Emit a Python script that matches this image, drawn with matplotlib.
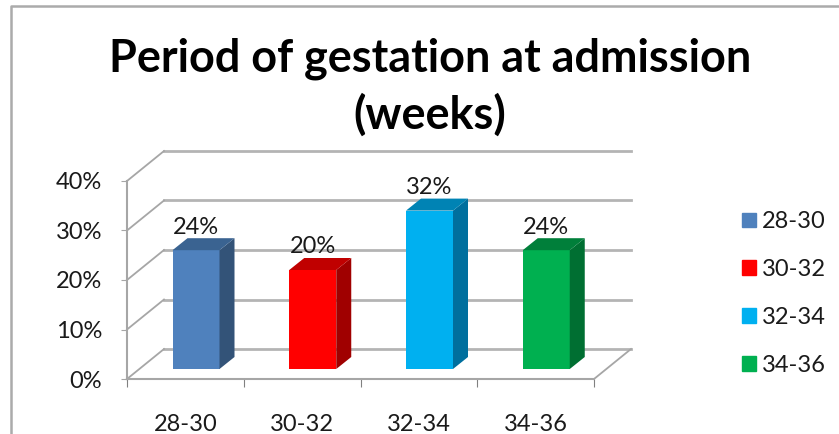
import matplotlib.pyplot as plt
from matplotlib.lines import Line2D
from matplotlib.patches import Patch, Polygon

plt.rcParams['font.family'] = ['Lato', 'DejaVu Sans']

categories = ['28-30', '30-32', '32-34', '34-36']
values = [24, 20, 32, 24]
y_ticks = [0, 10, 20, 30, 40]

front_colors = ['#4F81BD', '#FF0000', '#00B0F0', '#00B050']
top_colors = ['#3A6391', '#C00000', '#0083B4', '#007F3A']
side_colors = ['#335378', '#A00000', '#006F9E', '#006F32']

W, H = 839, 434
fig = plt.figure(figsize=(W / 100, H / 100), dpi=100)
ax = fig.add_axes([127 / W, (H - 379) / H, 467 / W, 198 / H])
ax.set_xlim(0, 4)
ax.set_ylim(0, 40)

# depth of the fake 3d box and of the bars, in data units
px_x = 4 / 467
px_y = 40 / 198
wall_dx, wall_dy = 37 * px_x, 30 * px_y
bar_dx, bar_dy = 15 * px_x, 12 * px_y
bar_w = 47 * px_x
bar_base = 10 * px_y
bar_shift = 69 * px_x

grid = '#B4B4B4'
for v in y_ticks:
    ax.plot([wall_dx, 4 + wall_dx], [v + wall_dy] * 2, color=grid, lw=2, zorder=1, clip_on=False)
    ax.plot([0, wall_dx], [v, v + wall_dy], color='#A6A6A6', lw=1.3, zorder=1, clip_on=False)
ax.plot([4, 4 + wall_dx], [0, wall_dy], color='#A6A6A6', lw=1.3, zorder=1, clip_on=False)

for i, v in enumerate(values):
    x0 = i + bar_shift - bar_w / 2
    x1 = x0 + bar_w
    top = bar_base + v
    ax.bar(x0, v, width=bar_w, bottom=bar_base, align='edge', color=front_colors[i], zorder=3, clip_on=False)
    ax.add_patch(Polygon([(x1, bar_base), (x1 + bar_dx, bar_base + bar_dy), (x1 + bar_dx, top + bar_dy), (x1, top)],
                         color=side_colors[i], lw=0, zorder=3, clip_on=False))
    ax.add_patch(Polygon([(x0, top), (x1, top), (x1 + bar_dx, top + bar_dy), (x0 + bar_dx, top + bar_dy)],
                         color=top_colors[i], lw=0, zorder=3, clip_on=False))
    ax.annotate(f'{v}%', (i + bar_shift, top), xytext=(0, 9), textcoords='offset points',
                ha='center', va='bottom', fontsize=17, color='#1A1A1A', zorder=4)

for s in ['top', 'right']:
    ax.spines[s].set_visible(False)
for s in ['left', 'bottom']:
    ax.spines[s].set_color('#A6A6A6')
    ax.spines[s].set_linewidth(1.5)

ax.set_yticks(y_ticks)
ax.set_yticklabels([f'{v}%' for v in y_ticks], fontsize=17, color='#1A1A1A')
ax.tick_params(axis='y', length=4, color='#A6A6A6', pad=14)
ax.set_xticks(range(5))
ax.set_xticklabels([])
ax.tick_params(axis='x', length=6, color='#808080')
ax.set_xticks([i + 0.5 for i in range(4)], minor=True)
ax.set_xticklabels(categories, minor=True, fontsize=17, color='#1A1A1A')
ax.tick_params(axis='x', which='minor', length=0, pad=25)

fig.text(430 / W, (H - 87) / H, 'Period of gestation at admission\n(weeks)', ha='center', va='center',
         fontsize=32.4, fontweight='bold', color='black', linespacing=1.38)

handles = [Patch(color=c) for c in front_colors]
fig.legend(handles, categories, loc='center left', bbox_to_anchor=(742 / W, (H - 293.5) / H), frameon=False,
           fontsize=17, handlelength=0.58, handleheight=0.58, handletextpad=0.28, labelspacing=1.13,
           labelcolor='#1A1A1A', borderpad=0, borderaxespad=0)

# border of the pasted picture
fig.add_artist(Line2D([10.5 / W, 10.5 / W, 1], [0, (H - 5.5) / H, (H - 5.5) / H], color='#ABABAB', lw=1.8))

fig.savefig('out.png', dpi=100)
